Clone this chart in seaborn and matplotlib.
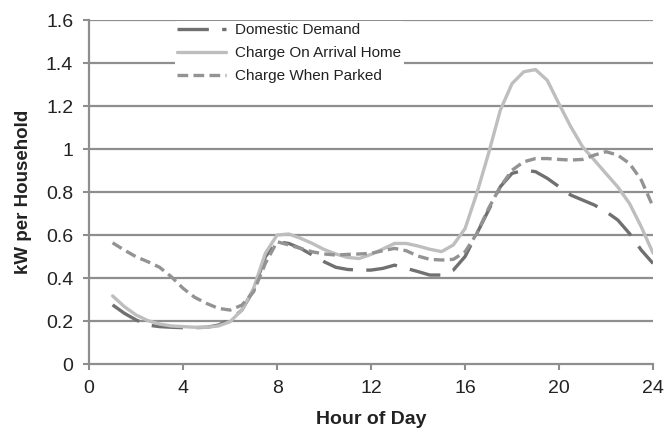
import numpy as np
import pandas as pd
import matplotlib
matplotlib.use("Agg")
import matplotlib.pyplot as plt
import seaborn as sns

# -----------------------------
# DATA (every half hour)
# -----------------------------
hours = [1, 1.5, 2, 2.5, 3, 3.5, 4, 4.5, 5, 5.5, 6, 6.5, 7, 7.5, 8, 8.5,
         9, 9.5, 10, 10.5, 11, 11.5, 12, 12.5, 13, 13.5, 14, 14.5, 15, 15.5,
         16, 16.5, 17, 17.5, 18, 18.5, 19, 19.5, 20, 20.5, 21, 21.5, 22,
         22.5, 23, 23.5, 24]

domestic = [0.275, 0.236, 0.205, 0.181, 0.174, 0.171, 0.169, 0.169, 0.171,
            0.181, 0.205, 0.251, 0.344, 0.499, 0.569, 0.561, 0.538, 0.507,
            0.476, 0.450, 0.440, 0.437, 0.437, 0.445, 0.460, 0.445, 0.430,
            0.414, 0.414, 0.437, 0.500, 0.607, 0.716, 0.825, 0.887, 0.902,
            0.895, 0.864, 0.825, 0.786, 0.763, 0.740, 0.709, 0.670, 0.607,
            0.530, 0.468]
arrival = [0.317, 0.267, 0.228, 0.202, 0.186, 0.177, 0.174, 0.171, 0.171,
           0.177, 0.197, 0.251, 0.352, 0.515, 0.600, 0.605, 0.585, 0.561,
           0.533, 0.512, 0.496, 0.491, 0.510, 0.535, 0.561, 0.561, 0.549,
           0.534, 0.523, 0.554, 0.630, 0.794, 0.980, 1.181, 1.305, 1.360,
           1.370, 1.320, 1.210, 1.104, 1.011, 0.949, 0.886, 0.824, 0.747,
           0.638, 0.516]
parked = [0.564, 0.530, 0.499, 0.476, 0.450, 0.406, 0.352, 0.310, 0.282,
          0.259, 0.251, 0.274, 0.336, 0.468, 0.569, 0.554, 0.538, 0.522,
          0.512, 0.507, 0.510, 0.512, 0.515, 0.527, 0.538, 0.527, 0.502,
          0.487, 0.484, 0.487, 0.522, 0.607, 0.724, 0.825, 0.902, 0.941,
          0.956, 0.956, 0.952, 0.949, 0.952, 0.972, 0.988, 0.972, 0.933,
          0.856, 0.732]

series_names = ["Domestic Demand", "Charge On Arrival Home", "Charge When Parked"]
x_ticks = [0, 4, 8, 12, 16, 20, 24]
y_ticks = [0, 0.2, 0.4, 0.6, 0.8, 1.0, 1.2, 1.4, 1.6]

n = len(hours)
df = pd.DataFrame({
    "Hour": hours * 3,
    "kW": domestic + arrival + parked,
    "Series": [series_names[0]] * n + [series_names[1]] * n + [series_names[2]] * n,
})

# -----------------------------
# STYLE
# -----------------------------
sns.set_style("white")
plt.rcParams["font.family"] = ["Liberation Sans", "DejaVu Sans"]

palette = {
    "Domestic Demand": "#707070",
    "Charge On Arrival Home": "#bebebe",
    "Charge When Parked": "#939393",
}
dashes = {
    "Domestic Demand": (9.4, 4),
    "Charge On Arrival Home": "",
    "Charge When Parked": (3.2, 1.6),
}

fig = plt.figure(figsize=(6.65, 4.29), dpi=100)
ax = fig.add_axes([0.134, 0.1515, 0.848, 0.8015])

grid_col = "#8e8e8e"
text_col = "#222222"
for v in y_ticks[1:]:
    ax.axhline(v, color=grid_col, lw=1.6, zorder=0)

sns.lineplot(data=df, x="Hour", y="kW", hue="Series", style="Series",
             palette=palette, dashes=dashes, hue_order=series_names,
             style_order=series_names, lw=2.4, ax=ax, zorder=3)

ax.set_xlim(0, 24)
ax.set_ylim(0, 1.6)
ax.set_xticks(x_ticks)
ax.set_yticks(y_ticks)
ax.set_yticklabels([f"{v:g}" for v in y_ticks])
ax.tick_params(axis="both", direction="out", length=4.5, width=1.5,
               color=grid_col, labelsize=14, pad=7, labelcolor=text_col)
ax.tick_params(axis="x", bottom=True)
ax.tick_params(axis="y", left=True)

for side in ["top", "right"]:
    ax.spines[side].set_visible(False)
for side in ["left", "bottom"]:
    ax.spines[side].set_color(grid_col)
    ax.spines[side].set_linewidth(1.6)

ax.set_xlabel("Hour of Day", fontsize=14, fontweight="bold", labelpad=10,
              color=text_col)
ax.set_ylabel("kW per Household", fontsize=13.5, fontweight="bold", labelpad=10,
              color=text_col)

leg = ax.legend(loc="upper left", bbox_to_anchor=(0.152, 0.997), borderaxespad=0,
                frameon=True, fontsize=11, handlelength=3.2, handletextpad=0.6,
                labelspacing=0.58, borderpad=0.15, framealpha=1)
leg.get_frame().set_facecolor("white")
leg.get_frame().set_edgecolor("white")
leg.get_frame().set_linewidth(0)
leg.set_zorder(5)
for text in leg.get_texts():
    text.set_color(text_col)

fig.savefig("out.png", dpi=100)
plt.close(fig)
